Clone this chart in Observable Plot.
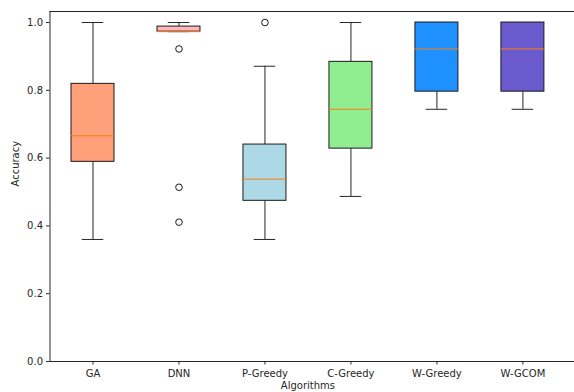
<!DOCTYPE html>
<html>
<head>
<meta charset="utf-8">
<script src="https://cdn.jsdelivr.net/npm/d3@7"></script>
<script src="https://cdn.jsdelivr.net/npm/@observablehq/plot@0.6"></script>
<style>
  html, body { margin: 0; padding: 0; background: #fff; }
  #chart svg { display: block; }
</style>
</head>
<body>
<div id="chart"></div>
<script>
// ---- data ----
const categories = ["GA", "DNN", "P-Greedy", "C-Greedy", "W-Greedy", "W-GCOM"];
const whiskerLow  = [0.360, 0.973, 0.360, 0.487, 0.744, 0.744];
const q1s         = [0.589, 0.973, 0.474, 0.628, 0.796, 0.796];
const medians     = [0.666, 0.973, 0.538, 0.744, 0.922, 0.922];
const q3s         = [0.819, 0.988, 0.640, 0.884, 1.000, 1.000];
const whiskerHigh = [1.000, 1.000, 0.871, 1.000, 1.000, 1.000];
const boxColors   = ["#FFA07A", "#FFB6C1", "#ADD8E6", "#90EE90", "#1E90FF", "#6A5ACD"];
const outlierCat  = ["DNN", "DNN", "DNN", "P-Greedy"];
const outlierVal  = [0.922, 0.514, 0.411, 1.000];
const yTicks      = [0.0, 0.2, 0.4, 0.6, 0.8, 1.0];
const yLabel      = "Accuracy";
const xLabel      = "Algorithms";

// ---- build tables ----
const boxes = categories.map((c, i) => ({
  cat: c, pos: i + 1,
  lo: whiskerLow[i], q1: q1s[i], med: medians[i], q3: q3s[i], hi: whiskerHigh[i],
  color: boxColors[i]
}));
const outliers = outlierCat.map((c, i) => ({pos: categories.indexOf(c) + 1, v: outlierVal[i]}));
const half = 0.25, capHalf = 0.125;
const yTop = 1.0325;

const font = "DejaVu Sans, sans-serif";

const chart = Plot.plot({
  width: 574,
  height: 392,
  marginLeft: 49.5,
  marginRight: 0,
  marginTop: 11,
  marginBottom: 31,
  style: {fontFamily: font, fontSize: "10px", color: "#262626", background: "#fff"},
  x: {domain: [0.5, 6.6], axis: null},
  y: {domain: [0, yTop], axis: null},
  color: {type: "identity"},
  marks: [
    // spines
    Plot.ruleY([0], {stroke: "#262626", strokeWidth: 1}),
    Plot.ruleY([yTop], {stroke: "#262626", strokeWidth: 1}),
    Plot.ruleX([0.5], {stroke: "#262626", strokeWidth: 1}),
    // whiskers
    Plot.ruleX(boxes, {x: "pos", y1: "q3", y2: "hi", stroke: "#262626", strokeWidth: 1}),
    Plot.ruleX(boxes, {x: "pos", y1: "lo", y2: "q1", stroke: "#262626", strokeWidth: 1}),
    // caps
    Plot.ruleY(boxes, {y: "hi", x1: d => d.pos - capHalf, x2: d => d.pos + capHalf, stroke: "#262626", strokeWidth: 1}),
    Plot.ruleY(boxes, {y: "lo", x1: d => d.pos - capHalf, x2: d => d.pos + capHalf, stroke: "#262626", strokeWidth: 1}),
    // boxes
    Plot.rect(boxes, {x1: d => d.pos - half, x2: d => d.pos + half, y1: "q1", y2: "q3", fill: "color", stroke: "#1a1a1a", strokeWidth: 1}),
    // medians
    Plot.ruleY(boxes, {y: "med", x1: d => d.pos - half, x2: d => d.pos + half, stroke: "#ff7f0e", strokeWidth: 1}),
    // outliers
    Plot.dot(outliers, {x: "pos", y: "v", r: 3.3, fill: "none", stroke: "#1a1a1a", strokeWidth: 1}),
    // axes
    Plot.axisY(yTicks, {tickFormat: d3.format(".1f"), tickSize: 3.5, tickPadding: 3.5, label: null, stroke: "#262626", fill: "#262626", fontSize: 10}),
    Plot.axisX(d3.range(1, categories.length + 1), {tickFormat: d => categories[d - 1], tickSize: 3.5, tickPadding: 4.5, label: null, stroke: "#262626", fill: "#262626", fontSize: 10}),
    // axis titles
    Plot.text([yLabel], {text: d => d, frameAnchor: "left", dx: -34, rotate: -90, fontSize: 10, fill: "#262626"}),
    Plot.text([xLabel], {text: d => d, x: 3.5, frameAnchor: "bottom", dy: 27, fontSize: 10, fill: "#262626"})
  ]
});
document.getElementById("chart").appendChild(chart);
</script>
</body>
</html>
